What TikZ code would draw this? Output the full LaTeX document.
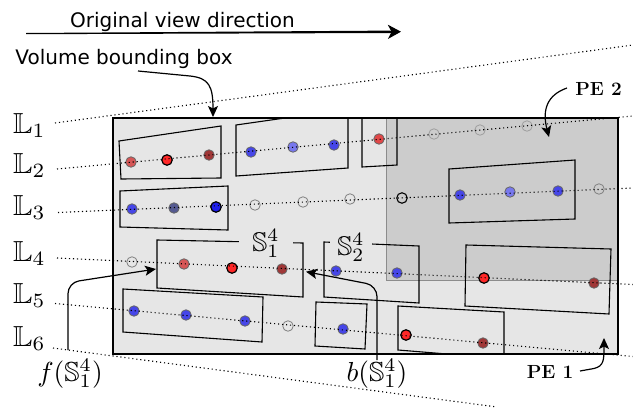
\documentclass[tikz,border=0pt]{standalone}
\usepackage{amssymb}
\usepackage{graphicx}
\usepackage{fontspec}
\newfontfamily\dvs{DejaVu Sans}
\usetikzlibrary{arrows.meta}
\definecolor{volfill}{HTML}{E6E6E6}
\definecolor{pefill}{HTML}{CCCCCC}
\definecolor{clred}{RGB}{214,86,86}
\definecolor{cbred}{RGB}{255,40,40}
\definecolor{cdred}{RGB}{160,55,55}
\definecolor{cmred}{RGB}{225,72,72}
\definecolor{cblue}{RGB}{70,70,232}
\definecolor{clblue}{RGB}{120,120,238}
\definecolor{csblue}{RGB}{85,90,145}
\definecolor{cbblue}{RGB}{30,30,235}
\newcommand{\mysc}[2]{\scalebox{#1}{$#2$}}
\tikzset{
  vol/.style={draw=black, line width=1.1pt, fill=volfill},
  pereg/.style={draw=black!45, line width=1pt, fill=pefill},
  sub/.style={draw=black, line width=1.1pt, line join=miter},
  ray/.style={draw=black, line width=1.1pt, dash pattern=on 1.1pt off 2.9pt},
  dotn/.style={circle, inner sep=0pt, minimum size=10.5pt, line width=0.8pt, draw=black!60},
  dlred/.style={dotn, fill=clred},
  dmred/.style={dotn, fill=cmred},
  dbred/.style={dotn, fill=cbred, draw=black, line width=1.2pt},
  ddred/.style={dotn, fill=cdred},
  dblue/.style={dotn, fill=cblue},
  dlblue/.style={dotn, fill=clblue},
  dsblue/.style={dotn, fill=csblue},
  dbblue/.style={dotn, fill=cbblue, draw=black, line width=1.2pt},
  dhol/.style={dotn, draw=black!50},
  dholl/.style={dotn, draw=black!38},
  dholk/.style={dotn, draw=black, line width=1.1pt},
  dvtext/.style={font=\dvs\fontsize{20}{24}\selectfont, inner sep=0pt},
  mlab/.style={inner sep=0pt},
  slab/.style={inner ysep=0pt, fill=volfill},
  pelab/.style={font=\bfseries\fontsize{19}{22}\selectfont, inner sep=0pt},
  arr/.style={line width=1.2pt, -{Stealth[length=11pt,width=10pt,inset=2.5pt]}},
}
\begin{document}
\begin{tikzpicture}[x=1pt,y=-1pt]
\useasboundingbox (0,0) rectangle (633,410);

% volume and PE 2 region
\draw[vol] (113,118) rectangle (618,354);
\draw[pereg] (386,118) rectangle (618,280);
\draw[vol, fill=none] (113,118) rectangle (618,354);

% sub-volumes
\draw[sub] (119,141) -- (221,126) -- (221,178) -- (121,179) -- cycle;
\draw[sub] (236,125) -- (285,118) -- (348,118) -- (348,168) -- (236,176) -- cycle;
\draw[sub] (362,118) -- (397,118) -- (397,165) -- (362,167) -- cycle;
\draw[sub] (120,191) -- (228,186) -- (228,230) -- (120,227) -- cycle;
\draw[sub] (449,169) -- (575,160) -- (575,219) -- (449,223) -- cycle;
\draw[sub] (157,240) -- (303,243) -- (303,297) -- (157,288) -- cycle;
\draw[sub] (324,242) -- (419,246) -- (419,303) -- (324,297) -- cycle;
\draw[sub] (466,245) -- (611,249) -- (609,314) -- (465,306) -- cycle;
\draw[sub] (123,289) -- (263,297) -- (262,342) -- (123,332) -- cycle;
\draw[sub] (316,302) -- (367,304) -- (365,349) -- (315,346) -- cycle;
\draw[sub] (398,306) -- (504,312) -- (504,354) -- (447,354) -- (398,350) -- cycle;

\node[slab, anchor=base, inner xsep=13pt] (S1) at (266,251) {\mysc{2.7}{\mathbb{S}_1^4}};
\node[slab, anchor=base, inner xsep=7pt] (S2) at (351,255) {\mysc{2.7}{\mathbb{S}_2^4}};

% samples, row 2
\node[dlred] (a1) at (131,162) {};
\node[dbred] (a2) at (167,160) {};
\node[ddred] (a3) at (209,155) {};
\node[dblue] (a4) at (251,152) {};
\node[dlblue] (a5) at (293,147) {};
\node[dblue] (a6) at (334,145) {};
\node[dmred] (a7) at (379,139) {};
\node[dholl] (a8) at (434,134) {};
\node[dholl] (a9) at (480,130) {};
\node[dholl] (a10) at (527,126) {};
% row 3
\node[dblue] (b1) at (132,209) {};
\node[dsblue] (b2) at (174,208) {};
\node[dbblue] (b3) at (216,207) {};
\node[dhol] (b4) at (255,205) {};
\node[dhol] (b5) at (303,202) {};
\node[dhol] (b6) at (350,199) {};
\node[dholk] (b7) at (402,198) {};
\node[dblue] (b8) at (460,195) {};
\node[dlblue] (b9) at (510,192) {};
\node[dblue] (b10) at (558,191) {};
\node[dhol] (b11) at (599,189) {};
% row 4
\node[dhol] (c1) at (132,262) {};
\node[dlred] (c2) at (184,264) {};
\node[dbred] (c3) at (232,268) {};
\node[ddred] (c4) at (282,269) {};
\node[dblue] (c5) at (336,271) {};
\node[dblue] (c6) at (397,273) {};
\node[dbred] (c7) at (484,278) {};
\node[ddred] (c8) at (594,283) {};
% row 5
\node[dblue] (d1) at (134,311) {};
\node[dblue] (d2) at (186,315) {};
\node[dblue] (d3) at (245,321) {};
\node[dhol] (d4) at (288,326) {};
\node[dblue] (d5) at (343,329) {};
\node[dbred] (d6) at (406,335) {};
\node[ddred] (d7) at (483,343) {};

% line labels
\node[mlab, anchor=base west] (L1) at (13,133) {\mysc{2.9}{\mathbb{L}_1}};
\node[mlab, anchor=base west] (L2) at (13,173) {\mysc{2.9}{\mathbb{L}_2}};
\node[mlab, anchor=base west] (L3) at (13,215) {\mysc{2.9}{\mathbb{L}_3}};
\node[mlab, anchor=base west] (L4) at (13,261) {\mysc{2.9}{\mathbb{L}_4}};
\node[mlab, anchor=base west] (L5) at (13,303) {\mysc{2.9}{\mathbb{L}_5}};
\node[mlab, anchor=base west] (L6) at (13,346) {\mysc{2.9}{\mathbb{L}_6}};

% rays
\coordinate (r1s) at (55,123);   \coordinate (r1e) at (633,45);
\coordinate (r2s) at (57,169);   \coordinate (r2e) at (633,116);
\coordinate (r3s) at (58,212.5); \coordinate (r3e) at (633,188);
\coordinate (r4s) at (57,258);   \coordinate (r4e) at (633,284.5);
\coordinate (r5s) at (55,303.5); \coordinate (r5e) at (633,356.5);
\coordinate (r6s) at (53,348);   \coordinate (r6e) at (497,407);
\draw[ray] (r1s) -- (r1e);
\draw[ray] (r2s) -- (r2e);
\draw[ray] (r3s) -- (r3e);
\draw[ray] (r4s) -- (r4e);
\draw[ray] (r5s) -- (r5e);
\draw[ray] (r6s) -- (r6e);

% texts
\node[dvtext, anchor=base] (ovd) at (182.5,27) {Original view direction};
\node[dvtext, anchor=base] (vbb) at (124,64) {Volume bounding box};
\node[pelab, anchor=base] (pe2) at (598.5,95) {PE 2};
\node[pelab, anchor=base] (pe1) at (550,378) {PE 1};
\node[mlab, anchor=base] (flab) at (70,381) {\mysc{2.75}{f(\mathbb{S}_1^4)}};
\node[mlab, anchor=base] (blab) at (377,381) {\mysc{2.75}{b(\mathbb{S}_1^4)}};

% view direction arrow
\coordinate (ovs) at (26,33.6);
\coordinate (ovm) at (390,31.8);
\coordinate (ove) at (401,31.7);
\fill[black] ([yshift=-0.6pt]ovs) -- ([yshift=-1.2pt]ovm) -- ([yshift=1.2pt]ovm) -- ([yshift=0.6pt]ovs) -- cycle;
\draw[line width=2pt, -{Stealth[length=13pt,width=14pt,inset=3.5pt]}] (ovm) -- (ove);

% annotation arrows
\coordinate (vbs) at (138,71);
\coordinate (vbt) at (213,117);
\draw[arr] (vbs) -- (190,76) .. controls (209,78) and (213,86) .. (vbt);
\coordinate (p2s) at (567,88);
\coordinate (p2t) at (549,137);
\draw[arr] (p2s) .. controls (547,95) and (542,110) .. (p2t);
\coordinate (p1s) at (580,371);
\coordinate (p1t) at (604,338);
\draw[arr] (p1s) -- (594,368.5) .. controls (604,366) and (604,360) .. (p1t);
\coordinate (fs) at (68,350);
\coordinate (ft) at (156,269);
\draw[arr, rounded corners=11pt] (fs) -- (68,282.6) -- (ft);
\coordinate (bs) at (377,360);
\coordinate (bt) at (306,271.7);
\draw[arr, rounded corners=11pt] (bs) -- (377,285.5) -- (bt);
\end{tikzpicture}
\end{document}
